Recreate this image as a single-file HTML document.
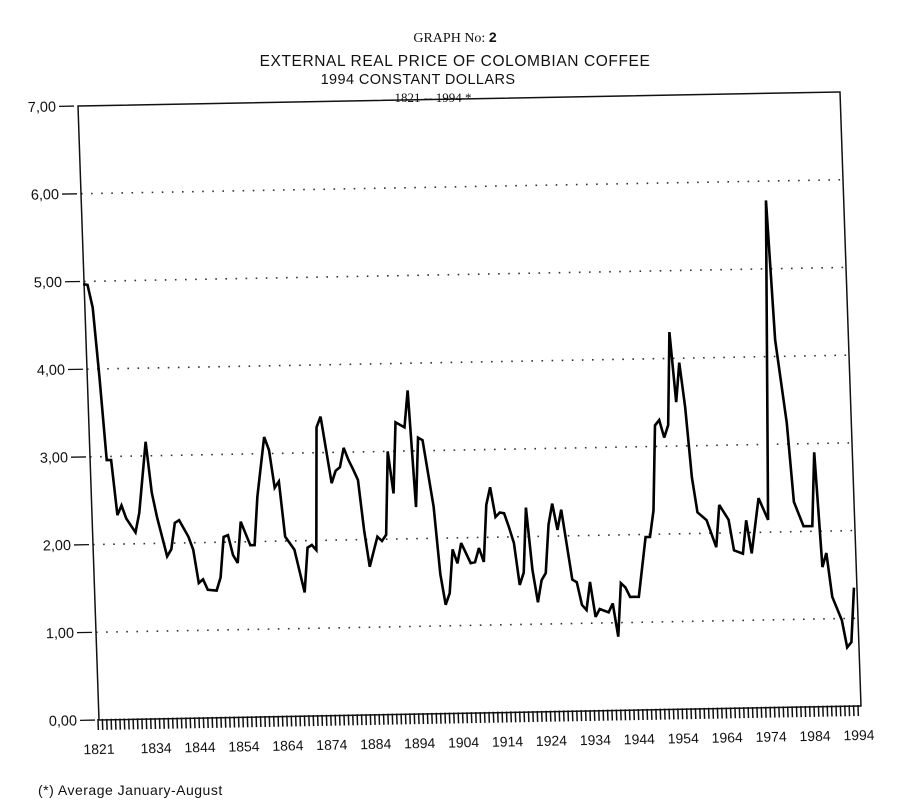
<!DOCTYPE html>
<html><head><meta charset="utf-8"><style>
html,body{margin:0;padding:0;background:#fff;}
svg{display:block;}
text{fill:#111;}
</style></head><body>
<svg id="chart" width="904" height="809" viewBox="0 0 904 809" xmlns="http://www.w3.org/2000/svg">
<rect x="0" y="0" width="904" height="809" fill="#fff"/>
<g font-family="'Liberation Serif', serif" text-anchor="middle">
<text x="455" y="42" font-size="14">GRAPH  No: <tspan font-family="'Liberation Sans', sans-serif" font-weight="bold">2</tspan></text>
<text x="455" y="66" font-size="15.5" font-family="'Liberation Sans', sans-serif" letter-spacing="0.6">EXTERNAL REAL PRICE OF COLOMBIAN COFFEE</text>
<text x="418" y="84" font-size="14.5" font-family="'Liberation Sans', sans-serif" letter-spacing="0.4">1994 CONSTANT DOLLARS</text>
<text x="433" y="102" font-size="13">1821 -- 1994 *</text>
</g>
<g id="plot" transform="matrix(1,-0.0184,0.0342,1,78,106)"></g>
<text x="38" y="795" font-size="14" font-family="'Liberation Sans', sans-serif" letter-spacing="0.5">(*)   Average  January-August</text>
</svg>
<script>
const years = [1821,1822,1823,1824,1825,1826,1827,1828,1829,1831,1832,1834,1835,1836,1838,1839,1840,1841,1843,1844,1845,1846,1847,1849,1850,1851,1852,1853,1854,1855,1857,1858,1859,1861,1862,1863,1864,1865,1867,1869,1870,1871,1872,1873,1874,1876,1877,1878,1879,1880,1881,1882,1883,1884,1886,1887,1888,1889,1890,1891,1893,1894,1895,1896,1897,1899,1900,1901,1902,1903,1904,1905,1907,1908,1909,1910,1911,1912,1913,1914,1915,1916,1917,1918,1919,1920,1921,1922,1923,1924,1925,1926,1927,1928,1930,1931,1932,1933,1934,1935,1936,1938,1939,1940,1941,1942,1943,1945,1947,1948,1949,1950,1951,1952,1953,1954,1955,1956,1957,1958,1959,1961,1963,1964,1966,1967,1969,1970,1971,1973,1975,1977,1978,1980,1981,1983,1985,1986,1987,1988,1989,1991,1992,1993,1994];
const prices = [4.97,4.96,4.70,3.90,2.96,2.96,2.33,2.44,2.29,2.13,2.35,3.16,2.58,2.30,1.85,1.93,2.23,2.26,2.07,1.92,1.54,1.58,1.46,1.45,1.60,2.06,2.08,1.85,1.76,2.23,1.96,1.96,2.51,3.19,3.04,2.61,2.68,2.05,1.90,1.41,1.92,1.95,1.89,3.29,3.41,2.65,2.79,2.83,3.05,2.91,2.80,2.68,2.11,1.69,2.03,1.98,2.05,3.00,2.52,3.33,3.27,3.69,2.36,3.15,3.12,2.36,1.59,1.24,1.37,1.87,1.71,1.94,1.71,1.72,1.88,1.72,2.37,2.57,2.23,2.28,2.27,2.11,1.93,1.45,1.59,2.33,1.62,1.25,1.50,1.58,2.13,2.37,2.07,2.30,1.50,1.47,1.21,1.15,1.47,1.07,1.16,1.12,1.22,0.84,1.45,1.40,1.29,1.29,1.97,1.97,2.27,3.24,3.30,3.10,3.24,4.30,3.50,3.95,3.44,2.64,2.24,2.15,1.84,2.32,2.15,1.80,1.76,2.14,1.76,2.39,2.14,5.78,4.19,3.24,2.34,2.06,2.06,2.90,1.59,1.75,1.25,0.98,0.67,0.73,1.35];
const yTicks = [0,1,2,3,4,5,6,7];
const yTickLabels = ["0,00","1,00","2,00","3,00","4,00","5,00","6,00","7,00"];
const xLabelYears = [1821,1834,1844,1854,1864,1874,1884,1894,1904,1914,1924,1934,1944,1954,1964,1974,1984,1994];

const W = 762, H = 614, Y0 = 1821, Y1 = 1994, VMAX = 7;
function xs(y){ return -1 + (y - Y0) * (W - 2) / (Y1 - Y0); }
function ys(v){ return H * (VMAX - v) / VMAX; }
const NS = "http://www.w3.org/2000/svg";
const g = document.getElementById('plot');
function mk(tag, attrs){ const e = document.createElementNS(NS, tag); for (const k in attrs) e.setAttribute(k, attrs[k]); g.appendChild(e); return e; }

yTicks.forEach(function(t){
  if (t > 0 && t < VMAX) {
    const l = mk('line', {x1: 0, x2: W, y1: ys(t), y2: ys(t), stroke: '#333', 'stroke-width': 1.6, 'stroke-dasharray': '1.6 8.5'});
    
    
  }
  const tk = mk('line', {x1: -19, x2: -4, y1: ys(t), y2: ys(t), stroke: '#111', 'stroke-width': 1.3});
  
  
  const tx = mk('text', {x: -22, y: ys(t) + 5, 'text-anchor': 'end', 'font-size': 14.5, 'font-family': "'Liberation Sans', sans-serif"});
  tx.textContent = yTickLabels[t];
  
  
});

const frame = mk('rect', {x: 0, y: 0, width: W, height: H, fill: 'none', stroke: '#111', 'stroke-width': 1.5});



for (let yr = Y0; yr <= Y1; yr++) {
  const t = mk('line', {x1: xs(yr), x2: xs(yr), y1: H - 1, y2: H + 10, stroke: '#111', 'stroke-width': 1.5});
  
  
}
xLabelYears.forEach(function(yr){
  const t = mk('text', {x: xs(yr), y: H + 34, 'text-anchor': 'middle', 'font-size': 14, 'font-family': "'Liberation Sans', sans-serif"});
  t.textContent = yr;
  
  
});

let d = '';
years.forEach(function(yr, i){ d += (i ? 'L' : 'M') + xs(yr).toFixed(1) + ',' + ys(prices[i]).toFixed(1); });
const line = mk('path', {d: d, fill: 'none', stroke: '#000', 'stroke-width': 2.6, 'stroke-linejoin': 'miter', 'stroke-miterlimit': 3});


</script>
</body></html>
